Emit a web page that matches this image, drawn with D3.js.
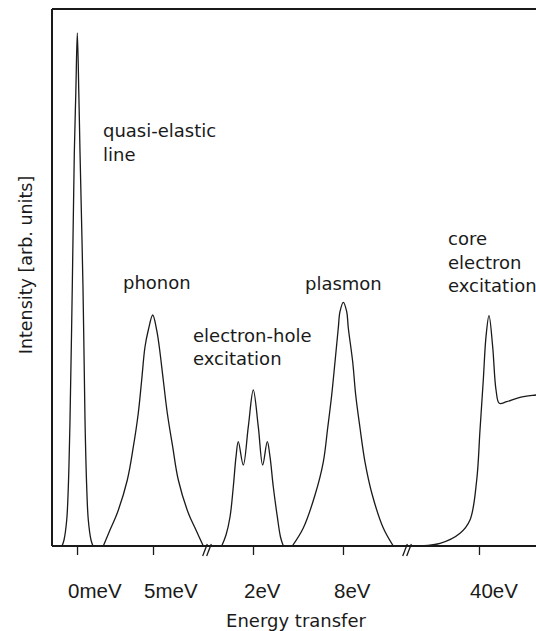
<!DOCTYPE html>
<html>
<head>
<meta charset="utf-8">
<script src="https://cdn.jsdelivr.net/npm/d3@7"></script>
<style>
  html, body { margin: 0; padding: 0; background: #fff; }
  svg { display: block; }
</style>
</head>
<body>
<script>
// ---- Data (x in schematic axis units 0..100, intensity in arb. units 0..100) ----
const tickPos = [5.17, 20.87, 41.53, 60.12, 88.22];
const tickLabels = ["0meV", "5meV", "2eV", "8eV", "40eV"];
const breakPos = [32.02, 73.35];

const quasiX = [2.07, 2.48, 3.04, 3.37, 3.72, 4.19, 4.61, 4.92, 5.23, 5.54, 5.79, 6.40, 6.82, 7.17, 7.50, 8.06, 8.47];
const quasiY = [0, 1.12, 4.84, 10.99, 23.46, 48.23, 73.18, 84.36, 95.53, 84.36, 73.18, 48.23, 23.46, 10.99, 4.84, 1.12, 0];

const phononX = [10.60, 11.98, 13.49, 15.56, 16.80, 17.83, 18.53, 19.21, 19.90, 20.81, 21.63, 22.17, 22.99, 23.82, 24.94, 26.10, 28.16, 29.75, 31.26];
const phononY = [0, 2.98, 6.15, 12.29, 18.44, 24.77, 30.91, 37.06, 40.22, 43.02, 40.22, 37.06, 30.91, 24.77, 18.44, 12.29, 6.15, 2.98, 0];

const ehX = [35.06, 35.95, 36.78, 37.46, 38.02, 38.49, 39.52, 40.56, 41.59, 42.62, 43.53, 44.48, 45.04, 45.72, 46.55, 47.21, 47.79];
const ehY = [0, 2.05, 5.40, 11.04, 16.63, 19.42, 15.08, 22.22, 29.05, 22.22, 15.08, 19.42, 16.63, 11.04, 5.46, 1.68, 0];

const plasmonX = [49.65, 51.92, 54.34, 56.05, 56.96, 57.79, 58.47, 59.15, 59.50, 60.19, 60.89, 61.22, 62.13, 62.75, 63.64, 64.67, 66.18, 68.45, 70.52];
const plasmonY = [0, 3.35, 9.50, 15.64, 21.97, 28.12, 34.26, 40.60, 43.63, 45.38, 43.63, 40.60, 34.26, 28.12, 21.97, 15.64, 9.50, 3.35, 0];

const coreX = [73.97, 80.17, 84.30, 86.36, 87.75, 88.43, 89.11, 89.67, 90.29, 91.05, 91.74, 92.42, 93.95, 96.69, 100, 101.86];
const coreY = [0, 0.50, 2.37, 4.84, 12.29, 21.60, 30.91, 38.98, 42.89, 37.11, 29.05, 26.57, 26.87, 27.69, 28.12, 28.31];

const labelLines = [["quasi-elastic", "line"], ["phonon"], ["electron-hole", "excitation"], ["plasmon"], ["core", "electron", "excitation"]];
const labelX = [10.54, 14.67, 29.13, 52.27, 81.82];
const labelY = [76.16, 47.86, 37.99, 47.67, 56.05];

const xTitle = "Energy transfer";
const yTitle = "Intensity [arb. units]";

// ---- Layout ----
const W = 536, H = 631;
const mLeft = 52, mTop = 9, mBottom = 546, mRight = 536;

const svg = d3.select("body").append("svg")
  .attr("width", W).attr("height", H)
  .style("background", "#fff");

const x = d3.scaleLinear().domain([0, 100]).range([mLeft, mRight]);
const y = d3.scaleLinear().domain([0, 100]).range([mBottom, mTop]);

const ink = "#1a1a1a";

// clip for curves (keep them above the axis line)
svg.append("defs").append("clipPath").attr("id", "plotclip")
  .append("rect").attr("x", mLeft).attr("y", mTop).attr("width", W).attr("height", mBottom - mTop);

// frame: left and top lines
svg.append("line").attr("x1", mLeft).attr("x2", mLeft).attr("y1", mTop).attr("y2", mBottom)
  .attr("stroke", ink).attr("stroke-width", 2);
svg.append("line").attr("x1", mLeft).attr("x2", W + 5).attr("y1", mTop).attr("y2", mTop)
  .attr("stroke", ink).attr("stroke-width", 2);

// curves
const line = d3.line()
  .x(d => x(d[0])).y(d => y(d[1]))
  .curve(d3.curveCatmullRom.alpha(0.5));

const series = [[quasiX, quasiY], [phononX, phononY], [ehX, ehY], [plasmonX, plasmonY], [coreX, coreY]];
svg.append("g").attr("clip-path", "url(#plotclip)").selectAll("path")
  .data(series.map(([xs, ys]) => xs.map((v, i) => [v, ys[i]])))
  .join("path")
  .attr("d", line)
  .attr("fill", "none")
  .attr("stroke", ink)
  .attr("stroke-width", 1.3)
  .attr("stroke-linejoin", "round");

// x axis
const xAxis = d3.axisBottom(x)
  .tickValues(tickPos)
  .tickFormat((d, i) => tickLabels[i])
  .tickSizeInner(9).tickSizeOuter(0);

const gx = svg.append("g").attr("transform", `translate(0,${mBottom})`).call(xAxis);
gx.select(".domain").attr("stroke", ink).attr("stroke-width", 2)
  .attr("d", `M${mLeft},0H${W + 5}`);
gx.selectAll(".tick line").attr("stroke", ink).attr("stroke-width", 1.3);
gx.selectAll(".tick text")
  .attr("x", -9.5).attr("y", 52).attr("dy", null)
  .attr("text-anchor", "start")
  .attr("fill", ink)
  .style("font-family", "'Liberation Sans', Arial, sans-serif")
  .style("font-size", "20.5px");

// axis breaks "//"
const breaks = svg.append("g");
breakPos.forEach(b => {
  [-2, 2].forEach(off => {
    breaks.append("line")
      .attr("x1", x(b) + off - 2.3).attr("y1", mBottom + 10)
      .attr("x2", x(b) + off + 2.3).attr("y2", mBottom - 2)
      .attr("stroke", ink).attr("stroke-width", 1.3);
  });
});

// labels
const lab = svg.append("g")
  .style("font-family", "'DejaVu Sans', sans-serif")
  .style("font-size", "18px")
  .attr("fill", ink);
labelLines.forEach((lines, i) => {
  const t = lab.append("text").attr("x", x(labelX[i])).attr("y", y(labelY[i]));
  lines.forEach((s, j) => {
    t.append("tspan").attr("x", x(labelX[i])).attr("dy", j === 0 ? 0 : 23.5).text(s);
  });
});

// axis titles
svg.append("text")
  .attr("x", 296).attr("y", 627)
  .attr("text-anchor", "middle")
  .attr("fill", ink)
  .style("font-family", "'DejaVu Sans', sans-serif")
  .style("font-size", "18px")
  .text(xTitle);

svg.append("text")
  .attr("transform", "translate(32,265) rotate(-90)")
  .attr("text-anchor", "middle")
  .attr("fill", ink)
  .style("font-family", "'DejaVu Sans', sans-serif")
  .style("font-size", "17.5px")
  .text(yTitle);
</script>
</body>
</html>
